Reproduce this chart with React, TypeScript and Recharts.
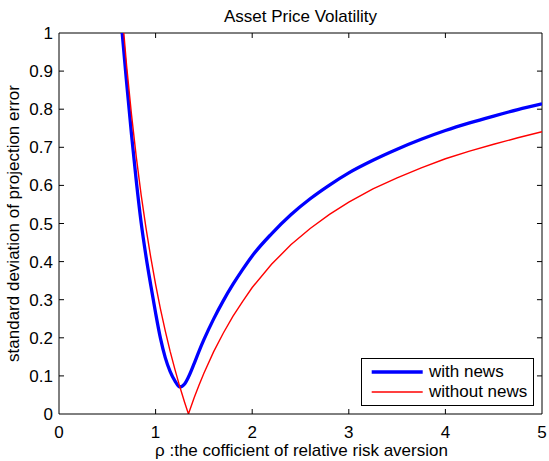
import React from 'react';
import { LineChart, Line, XAxis, YAxis, Legend, ReferenceLine } from 'recharts';

// rho grid and the two curves
const rho = [
  0.6, 0.65, 0.7, 0.75, 0.8, 0.85, 0.9, 0.95, 1.0, 1.05, 1.1, 1.15, 1.2, 1.25, 1.3, 1.34, 1.4, 1.45, 1.5,
  1.6, 1.7, 1.8, 1.9, 2.0, 2.2, 2.4, 2.6, 2.8, 3.0, 3.25, 3.5, 3.75, 4.0, 4.25, 4.5, 4.75, 5.0,
];
const withNews = [
  1.17, 1.012, 0.87, 0.735, 0.612, 0.503, 0.415, 0.338, 0.265, 0.199, 0.148, 0.112, 0.087, 0.071, 0.079, 0.097,
  0.133, 0.165, 0.195, 0.249, 0.297, 0.34, 0.379, 0.415, 0.473, 0.523, 0.565, 0.601, 0.633, 0.666, 0.695, 0.721,
  0.744, 0.764, 0.782, 0.799, 0.814,
];
const withoutNews = [
  1.233, 1.062, 0.914, 0.787, 0.675, 0.576, 0.489, 0.411, 0.34, 0.276, 0.218, 0.165, 0.117, 0.072, 0.031, 0,
  0.043, 0.076, 0.107, 0.163, 0.212, 0.256, 0.295, 0.332, 0.393, 0.444, 0.487, 0.524, 0.556, 0.591, 0.62, 0.646,
  0.67, 0.69, 0.708, 0.725, 0.741,
];
const xTicks = [0, 1, 2, 3, 4, 5];
const yTicks = [0, 0.1, 0.2, 0.3, 0.4, 0.5, 0.6, 0.7, 0.8, 0.9, 1];

const data = rho.map((r, i) => ({ rho: r, withNews: withNews[i], withoutNews: withoutNews[i] }));

const FONT = '"Liberation Sans", Arial, Helvetica, sans-serif';
const tickStyle = { fill: '#000', fontSize: 17, fontFamily: FONT };

// inward tick length in data units (about 5px each way)
const TICK_X = 0.052;
const TICK_Y = 0.0131;
const innerX = xTicks.slice(1, -1);
const innerY = yTicks.slice(1, -1);

const LegendBox = ({ payload }: any) => (
  <div
    style={{
      width: 173,
      height: 48,
      border: '1px solid #000',
      boxSizing: 'border-box',
      background: '#fff',
      position: 'relative',
      fontFamily: FONT,
      fontSize: 17,
      color: '#000',
    }}
  >
    {(payload || []).map((entry: any, i: number) => (
      <div
        key={entry.value}
        style={{ position: 'absolute', left: 0, top: 2.7 + i * 20.6, height: 20, display: 'flex', alignItems: 'center' }}
      >
        <svg width={67} height={20}>
          <line x1={9.7} x2={60.7} y1={10} y2={10} stroke={entry.color} strokeWidth={i === 0 ? 3.5 : 1.5} />
        </svg>
        <span style={{ lineHeight: '20px', whiteSpace: 'nowrap' }}>{entry.value}</span>
      </div>
    ))}
  </div>
);

export default function App() {
  return (
    <div style={{ position: 'absolute', left: 0, top: 0, width: 549, height: 461, background: '#fff' }}>
      <LineChart width={549} height={461} data={data} margin={{ top: 33, right: 7, bottom: 0, left: 0 }}>
        <XAxis
          dataKey="rho"
          type="number"
          domain={[0, 5]}
          ticks={xTicks}
          interval={0}
          height={47}
          tickSize={-5}
          tickMargin={17}
          tickLine={false}
          tick={tickStyle}
          stroke="#000"
          allowDataOverflow
        />
        <YAxis
          type="number"
          domain={[0, 1]}
          ticks={yTicks}
          interval={0}
          width={59}
          tickSize={-5}
          tickMargin={11}
          tickLine={false}
          tick={tickStyle}
          stroke="#000"
          allowDataOverflow
        />
        {/* top and right edges of the box */}
        <ReferenceLine y={1} stroke="#000" />
        <ReferenceLine x={5} stroke="#000" />
        {/* inward ticks on all four sides */}
        {innerX.map((x) => (
          <ReferenceLine key={`b${x}`} segment={[{ x, y: 0 }, { x, y: TICK_Y }]} stroke="#000" />
        ))}
        {innerX.map((x) => (
          <ReferenceLine key={`t${x}`} segment={[{ x, y: 1 }, { x, y: 1 - TICK_Y }]} stroke="#000" />
        ))}
        {innerY.map((y) => (
          <ReferenceLine key={`l${y}`} segment={[{ x: 0, y }, { x: TICK_X, y }]} stroke="#000" />
        ))}
        {innerY.map((y) => (
          <ReferenceLine key={`r${y}`} segment={[{ x: 5, y }, { x: 5 - TICK_X, y }]} stroke="#000" />
        ))}
        <Legend
          layout="vertical"
          align="center"
          verticalAlign="middle"
          wrapperStyle={{ left: 361, top: 358, width: 173, height: 48 }}
          content={LegendBox}
        />
        <Line
          dataKey="withNews"
          name="with news"
          type="monotone"
          stroke="#0000ff"
          strokeWidth={3.3}
          dot={false}
          isAnimationActive={false}
        />
        <Line
          dataKey="withoutNews"
          name="without news"
          type="linear"
          stroke="#ff0000"
          strokeWidth={1.4}
          dot={false}
          isAnimationActive={false}
        />
      </LineChart>
      <svg
        width={549}
        height={461}
        style={{ position: 'absolute', left: 0, top: 0, pointerEvents: 'none' }}
        fontFamily={FONT}
        fontSize={17}
        fill="#000"
      >
        <text x={300.5} y={22} textAnchor="middle">Asset Price Volatility</text>
        <text x={301.5} y={456} textAnchor="middle">ρ :the cofficient of relative risk aversion</text>
        <text x={19} y={223.5} textAnchor="middle" transform="rotate(-90 19 223.5)">
          standard deviation of projection error
        </text>
      </svg>
    </div>
  );
}
